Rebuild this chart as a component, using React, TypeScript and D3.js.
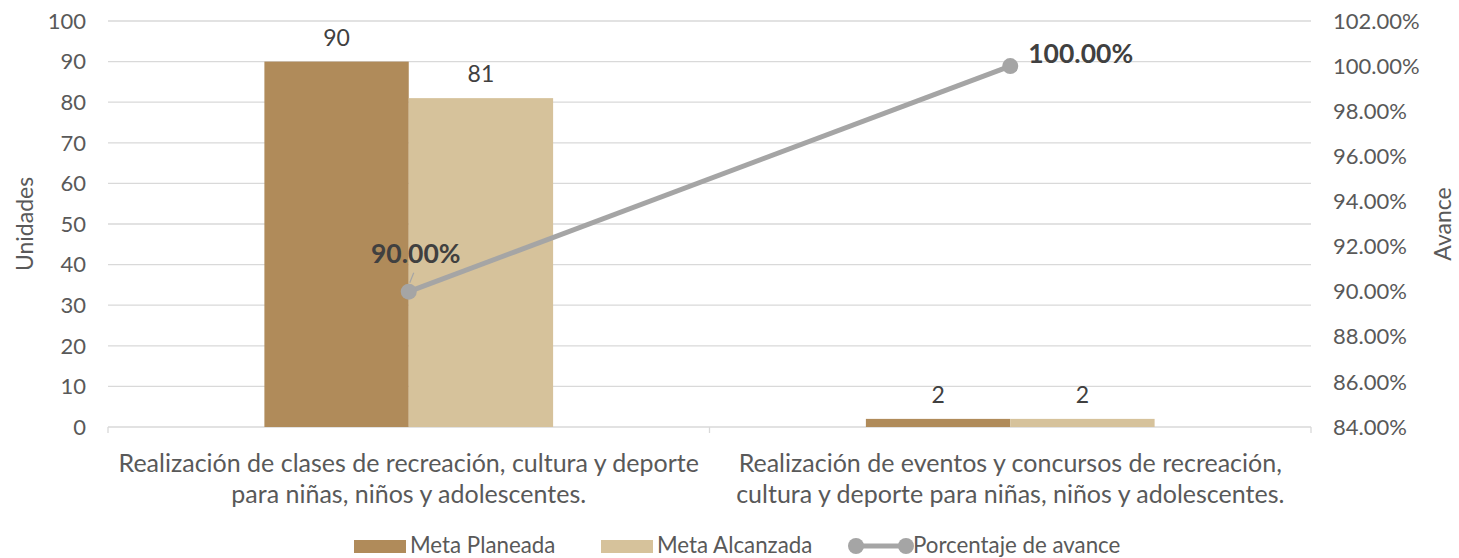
import React from "react";
import * as d3 from "d3";

const categories = [
  ["Realización de clases de recreación, cultura y deporte", "para niñas, niños y adolescentes."],
  ["Realización de eventos y concursos de recreación,", "cultura y deporte para niñas, niños y adolescentes."],
];
const metaPlaneada = [90, 2];
const metaAlcanzada = [81, 2];
const porcentaje = [0.9, 1.0];
const leftTicks = [0, 10, 20, 30, 40, 50, 60, 70, 80, 90, 100];
const rightTicks = [0.84, 0.86, 0.88, 0.9, 0.92, 0.94, 0.96, 0.98, 1.0, 1.02];

const C_DARK = "#B08B5A";
const C_LIGHT = "#D6C29B";
const C_LINE = "#A5A5A5";
const C_TEXT = "#595959";
const FONT = "Lato, 'Open Sans', sans-serif";

export default function App() {
  const W = 1459, H = 558;
  const x0 = 108, x1 = 1311, yTop = 21, yBot = 427;
  const xBand = d3.scaleBand<number>().domain([0, 1]).range([x0, x1]).paddingInner(0).paddingOuter(0);
  const yL = d3.scaleLinear().domain([0, 100]).range([yBot, yTop]);
  const yR = d3.scaleLinear().domain([0.84, 1.02]).range([yBot, yTop]);
  const bw = xBand.bandwidth();
  const barW = bw * 0.24;
  const cx = (i: number) => (xBand(i) as number) + bw / 2;
  const fmt = d3.format(".2%");
  const line = d3.line<number>().x((_, i) => cx(i)).y((d) => yR(d));

  return (
    <svg width={W} height={H} style={{ position: "absolute", left: 0, top: 0 }} fontFamily={FONT}>
      <rect width={W} height={H} fill="#fff" />
      {leftTicks.map((t) => (
        <line key={"g" + t} x1={x0} x2={x1} y1={yL(t)} y2={yL(t)} stroke="#D9D9D9" strokeWidth={1.3} />
      ))}
      {leftTicks.map((t) => (
        <text key={"l" + t} x={86} y={yL(t)} dy="0.35em" textAnchor="end" fontSize={22} fill={C_TEXT}>{t}</text>
      ))}
      {rightTicks.map((t) => (
        <text key={"r" + t} x={1333} y={yR(t)} dy="0.35em" textAnchor="start" fontSize={22} fill={C_TEXT}>{fmt(t)}</text>
      ))}
      {[0, 1, 2].map((i) => {
        const xx = i === 2 ? x1 : (xBand(i) as number);
        return <line key={"t" + i} x1={xx} x2={xx} y1={yBot} y2={yBot + 6} stroke="#D9D9D9" strokeWidth={1.3} />;
      })}
      {metaPlaneada.map((v, i) => (
        <rect key={"p" + i} x={cx(i) - barW} y={yL(v)} width={barW} height={yBot - yL(v)} fill={C_DARK} />
      ))}
      {metaAlcanzada.map((v, i) => (
        <rect key={"a" + i} x={cx(i)} y={yL(v)} width={barW} height={yBot - yL(v)} fill={C_LIGHT} />
      ))}
      {metaPlaneada.map((v, i) => (
        <text key={"pl" + i} x={cx(i) - barW / 2} y={yL(v) - 16} textAnchor="middle" fontSize={23} fill="#404040">{v}</text>
      ))}
      {metaAlcanzada.map((v, i) => (
        <text key={"al" + i} x={cx(i) + barW / 2} y={yL(v) - 16} textAnchor="middle" fontSize={23} fill="#404040">{v}</text>
      ))}
      <path d={line(porcentaje) as string} fill="none" stroke={C_LINE} strokeWidth={5} />
      {porcentaje.map((v, i) => (
        <circle key={"c" + i} cx={cx(i)} cy={yR(v)} r={8} fill={C_LINE} />
      ))}
      <line x1={cx(0) + 5} y1={yR(porcentaje[0]) - 19} x2={cx(0) + 1} y2={yR(porcentaje[0]) - 9} stroke={C_LINE} strokeWidth={1.2} />
      <text x={cx(0) + 7} y={yR(porcentaje[0]) - 29} textAnchor="middle" fontSize={26.5} fontWeight="bold" fill="#404040">{fmt(porcentaje[0])}</text>
      <text x={cx(1) + 18} y={yR(porcentaje[1]) - 3} textAnchor="start" fontSize={26.5} fontWeight="bold" fill="#404040">{fmt(porcentaje[1])}</text>
      {categories.map((lines, i) => (
        <text key={"cat" + i} x={cx(i)} textAnchor="middle" fontSize={25} fill={C_TEXT}>
          {lines.map((l, j) => (
            <tspan key={j} x={cx(i)} y={472 + j * 31}>{l}</tspan>
          ))}
        </text>
      ))}
      <text transform={`translate(33,224) rotate(-90)`} textAnchor="middle" fontSize={23} fill={C_TEXT}>Unidades</text>
      <text transform={`translate(1451,224) rotate(-90)`} textAnchor="middle" fontSize={23} fill={C_TEXT}>Avance</text>
      <g fontSize={22.3} fill={C_TEXT}>
        <rect x={354} y={540} width={52} height={13} fill={C_DARK} />
        <text x={410} y={545} dy="0.35em">Meta Planeada</text>
        <rect x={601} y={540} width={52} height={13} fill={C_LIGHT} />
        <text x={657} y={545} dy="0.35em">Meta Alcanzada</text>
        <line x1={856} x2={906} y1={546} y2={546} stroke={C_LINE} strokeWidth={5} />
        <circle cx={856} cy={546} r={8} fill={C_LINE} />
        <circle cx={906} cy={546} r={8} fill={C_LINE} />
        <text x={913} y={545} dy="0.35em">Porcentaje de avance</text>
      </g>
    </svg>
  );
}
